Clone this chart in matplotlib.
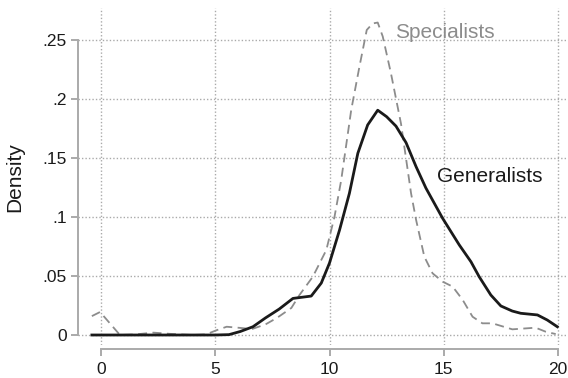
import matplotlib
matplotlib.use("Agg")
import matplotlib.pyplot as plt

plt.rcParams['font.family'] = ['Liberation Sans', 'DejaVu Sans']

# Generalists (solid black)
gen_x = [-0.4, 0, 1, 2, 3, 4, 5, 5.6, 6.1, 6.65, 7.2, 7.8, 8.4, 9.2, 9.64, 10.0, 10.44,
         10.87, 11.24, 11.67, 12.11, 12.5, 12.91, 13.35, 13.79, 14.22, 14.95, 15.68,
         16.19, 16.55, 17.06, 17.5, 18.0, 18.37, 19.1, 19.53, 19.97]
gen_y = [0, 0, 0, 0, 0, 0, 0, 0.0003, 0.003, 0.007, 0.0145, 0.022, 0.031, 0.033, 0.044,
         0.061, 0.089, 0.12, 0.154, 0.178, 0.1905, 0.185, 0.177, 0.163, 0.1426, 0.1245,
         0.0989, 0.0763, 0.0621, 0.0494, 0.0339, 0.0246, 0.0203, 0.0184, 0.017, 0.0127, 0.007]

# Specialists (dashed gray)
spe_x = [-0.4, -0.04, 0.83, 1.5, 2.3, 3.0, 4.0, 4.6, 5.05, 5.5, 6.1, 6.6, 7.2, 7.7, 8.33,
         8.69, 9.27, 9.86, 10.22, 10.51, 10.95, 11.31, 11.63, 11.89, 12.11, 12.33, 12.69,
         13.13, 13.57, 13.79, 14.15, 14.51, 14.95, 15.39, 15.83, 16.26, 16.69, 17.13,
         18.0, 18.59, 19.02, 19.46, 19.9]
spe_y = [0.016, 0.0195, 0.0, 0.0005, 0.002, 0.001, 0.0, 0.0005, 0.004, 0.007, 0.006, 0.005,
         0.009, 0.0145, 0.0229, 0.034, 0.0494, 0.072, 0.1003, 0.131, 0.1907, 0.2274, 0.2585,
         0.264, 0.2648, 0.253, 0.2217, 0.179, 0.12, 0.0975, 0.0664, 0.0523, 0.0452, 0.041,
         0.0297, 0.0155, 0.0099, 0.0099, 0.0048, 0.0056, 0.0062, 0.0028, 0.0008]

x_ticks = [0, 5, 10, 15, 20]
x_ticklabels = ['0', '5', '10', '15', '20']
y_ticks = [0, 0.05, 0.1, 0.15, 0.2, 0.25]
y_ticklabels = ['0', '.05', '.1', '.15', '.2', '.25']

W, H = 568, 378
fig = plt.figure(figsize=(W / 100, H / 100), dpi=100)
left, right, top, bottom = 78, 568, 8, 345
ax = fig.add_axes([left / W, 1 - bottom / H, (right - left) / W, (bottom - top) / H])

px_per_x = (558 - 101) / 20.0
x0 = -(101 - left) / px_per_x
x1 = 20 + (right - 558) / px_per_x
px_per_y = (335 - 40) / 0.25
y0 = -(bottom - 335) / px_per_y
y1 = 0.25 + (40 - top) / px_per_y
ax.set_xlim(x0, x1)
ax.set_ylim(y0, y1)

grey = '#aaaaaa'
for xt in x_ticks:
    ax.axvline(xt, color=grey, lw=1.0, ls=(0, (1, 1.5)), zorder=0)
for yt in y_ticks:
    ax.axhline(yt, color=grey, lw=1.0, ls=(0, (1, 1.5)), zorder=0)

ax.plot(spe_x, spe_y, color='#8c8c8c', lw=1.3, ls=(0, (5, 3)), zorder=2)
ax.plot(gen_x, gen_y, color='#1a1a1a', lw=2.0, zorder=3)

fig.text(395 / W, 1 - 33 / H, 'Specialists', fontsize=15, color='#8c8c8c',
         va='center', ha='left')
fig.text(437 / W, 1 - 177 / H, 'Generalists', fontsize=15, color='#1a1a1a',
         va='center', ha='left')

for s in ['top', 'right']:
    ax.spines[s].set_visible(False)
ax.spines['left'].set_bounds(0, 0.25)
ax.spines['bottom'].set_bounds(0, 20)
ax.spines['bottom'].set_position(('outward', 3))
for s in ['left', 'bottom']:
    ax.spines[s].set_color(grey)
    ax.spines[s].set_linewidth(1.4)

ax.set_xticks(x_ticks)
ax.set_xticklabels(x_ticklabels)
ax.set_yticks(y_ticks)
ax.set_yticklabels(y_ticklabels)
ax.tick_params(axis='both', colors=grey, labelcolor='#1a1a1a', length=5, width=1.4,
               labelsize=12.5, direction='out')
ax.tick_params(axis='y', pad=3)
ax.tick_params(axis='x', pad=4)

fig.text(15 / W, 1 - 177 / H, 'Density', rotation=90, fontsize=15, va='center',
         ha='center', color='#1a1a1a')

fig.savefig('out.png', dpi=100)
